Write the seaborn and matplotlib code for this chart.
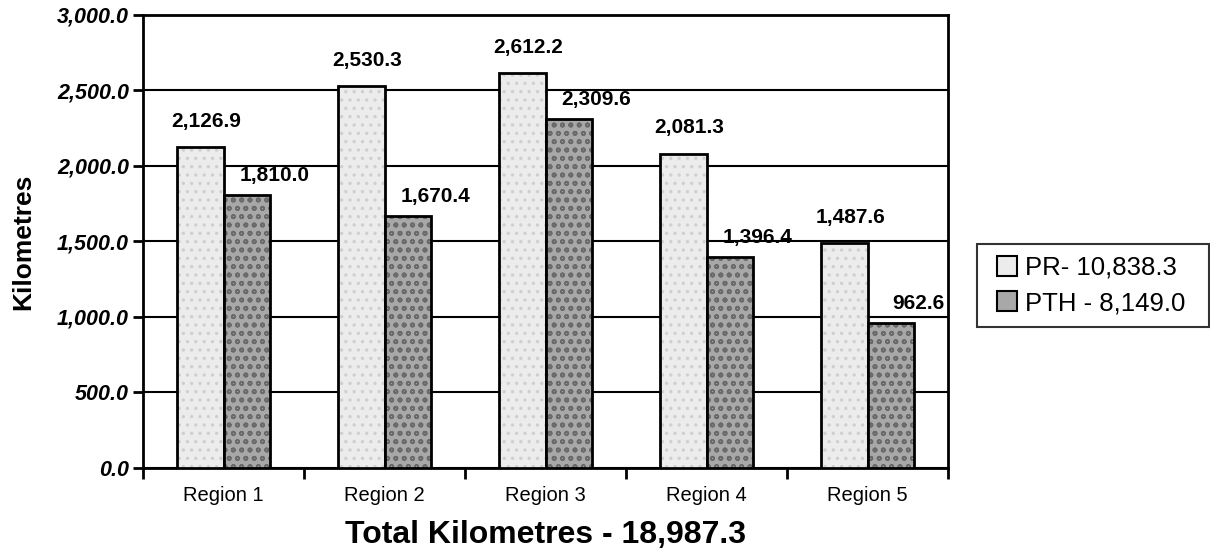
import pandas as pd
import numpy as np
import matplotlib
matplotlib.use('Agg')
import matplotlib.pyplot as plt
from matplotlib.lines import Line2D
from matplotlib.ticker import FuncFormatter, FixedLocator
import seaborn as sns

# chart data
regions = ['Region 1', 'Region 2', 'Region 3', 'Region 4', 'Region 5']
pr_km = [2126.9, 2530.3, 2612.2, 2081.3, 1487.6]
pth_km = [1810.0, 1670.4, 2309.6, 1396.4, 962.6]
series_names = ['PR- 10,838.3', 'PTH - 8,149.0']
total_label = 'Total Kilometres - 18,987.3'
y_ticks = [0, 500, 1000, 1500, 2000, 2500, 3000]

df = pd.DataFrame({
    'region': regions * 2,
    'km': pr_km + pth_km,
    'series': [series_names[0]] * len(regions) + [series_names[1]] * len(regions),
})

sns.set_style('white')
plt.rcParams['font.family'] = ['Liberation Sans', 'DejaVu Sans']
plt.rcParams['hatch.linewidth'] = 1.2
for k in ['text.color', 'axes.labelcolor', 'xtick.color', 'ytick.color']:
    plt.rcParams[k] = 'black'

fig = plt.figure(figsize=(12.1, 5.56), dpi=100)
ax = fig.add_axes([0.1182, 0.1583, 0.6653, 0.815])

face = {series_names[0]: '#ececec', series_names[1]: '#a8a8a8'}
hatches = ['..', 'oo']
hatch_cols = ['#cfcfcf', '#6a6a6a']

sns.barplot(data=df, x='region', y='km', hue='series', order=regions,
            hue_order=series_names, palette=face, width=0.572, gap=0,
            edgecolor='black', linewidth=2, saturation=1, legend=False,
            zorder=3, ax=ax)

# texture-ish fill + value labels (offsets in points)
x_off = [4, 20]
y_off = [14.5, 10]
for i, cont in enumerate(ax.containers):
    for bar in cont:
        bar.set_hatch(hatches[i])
        bar._hatch_color = matplotlib.colors.to_rgba(hatch_cols[i])
        h = bar.get_height()
        ax.annotate(f'{h:,.1f}', (bar.get_x() + bar.get_width() / 2, h),
                    xytext=(x_off[i], y_off[i]), textcoords='offset points',
                    ha='center', va='baseline', fontsize=15, fontweight='bold',
                    zorder=5)

ax.set_ylim(0, 3000)
ax.set_xlim(-0.5, len(regions) - 0.5)
ax.set_yticks(y_ticks)
ax.yaxis.set_major_formatter(FuncFormatter(lambda v, p: f'{v:,.1f}'))
for lab in ax.get_yticklabels():
    lab.set_fontweight('bold')
    lab.set_fontstyle('italic')
ax.tick_params(axis='y', labelsize=15.5, length=7, width=2, direction='out',
               left=True, pad=3)
ax.tick_params(axis='x', which='major', labelsize=14.5, length=0, pad=13)
ax.xaxis.set_minor_locator(FixedLocator(np.arange(-0.5, len(regions), 1)))
ax.tick_params(axis='x', which='minor', length=8, width=2, direction='out',
               bottom=True, color='black')

ax.yaxis.grid(True, color='black', linewidth=1.5)
ax.set_axisbelow(True)
for s in ax.spines.values():
    s.set_visible(True)
    s.set_color('black')
    s.set_linewidth(2)

ax.set_xlabel(total_label, fontsize=23, fontweight='bold', labelpad=11)
ax.set_ylabel('Kilometres', fontsize=19, fontweight='bold', labelpad=16)

handles = [Line2D([], [], linestyle='', marker='s', markersize=14,
                  markerfacecolor=face[n], markeredgecolor='black',
                  markeredgewidth=1.5) for n in series_names]
leg = fig.legend(handles, series_names, loc='center left', mode='expand',
                 bbox_to_anchor=(977 / 1210, 1 - 328 / 556, 232 / 1210, 85 / 556),
                 fontsize=18.5, frameon=True, fancybox=False, shadow=False,
                 handlelength=1.4, handletextpad=0.0,
                 labelspacing=0.45, borderpad=0.45, borderaxespad=0)
leg.get_frame().set_edgecolor('black')
leg.get_frame().set_linewidth(1.5)

fig.savefig('out.png', dpi=100)
